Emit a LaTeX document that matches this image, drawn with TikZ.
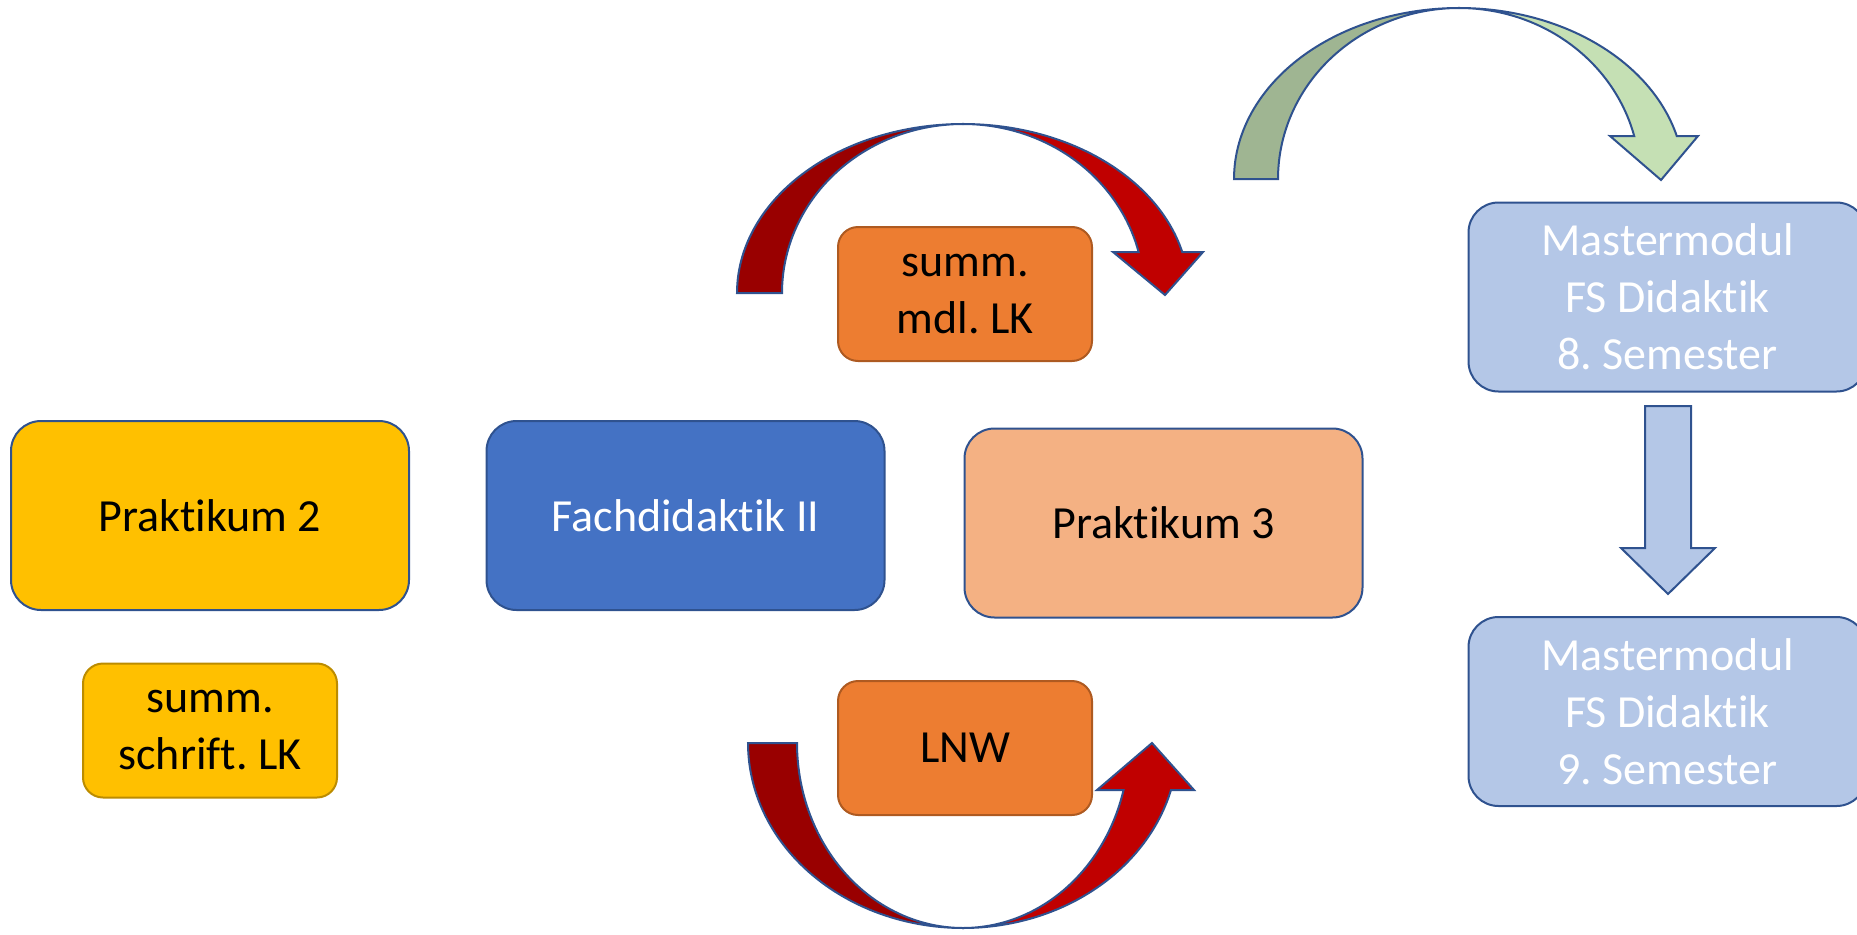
\documentclass[tikz,border=0pt]{standalone}
\usepackage{fontspec}
\setmainfont{Carlito}[RawFeature={-liga;-clig;-calt;-dlig}]
\frenchspacing
\definecolor{olblue}{HTML}{2F528F}
\definecolor{yel}{HTML}{FFC000}
\definecolor{gold}{HTML}{BC8C00}
\definecolor{blu}{HTML}{4472C4}
\definecolor{peach}{HTML}{F4B183}
\definecolor{ora}{HTML}{ED7D31}
\definecolor{brn}{HTML}{AE5A21}
\definecolor{lblue}{HTML}{B4C7E7}
\definecolor{dred}{HTML}{990000}
\definecolor{bred}{HTML}{C00000}
\definecolor{dgreen}{HTML}{9FB592}
\definecolor{lgreen}{HTML}{C5E0B4}
\begin{document}
\begin{tikzpicture}[x=1pt,y=-1pt,
  box/.style={draw=olblue, line width=2pt, rounded corners=30pt, inner sep=0pt, align=center,
              font=\fontsize{46pt}{57pt}\selectfont, text=black},
  smallbox/.style={box, rounded corners=20pt, minimum width=254pt, minimum height=134pt},
  bigbox/.style={box, minimum width=398pt, minimum height=189pt},
  arr/.style={draw=olblue, line width=2pt, line join=miter}
]
\useasboundingbox (0,0) rectangle (1857,934);

% curved red arrow (top)
\draw[arr, fill=dred] (737,293)
  -- plot[domain=180:90, samples=60, variable=\t] ({963+226*cos(\t)},{293-169*sin(\t)})
  -- plot[domain=90:180, samples=60, variable=\t] ({963+181*cos(\t)},{293-169*sin(\t)})
  -- cycle;
\draw[arr, fill=bred] (963,124)
  -- plot[domain=90:14.04, samples=60, variable=\t] ({963+226*cos(\t)},{293-169*sin(\t)})
  -- (1203,252) -- (1165,295) -- (1113,252)
  -- plot[domain=14.04:90, samples=60, variable=\t] ({963+181*cos(\t)},{293-169*sin(\t)})
  -- cycle;

% curved red arrow (bottom)
\draw[arr, fill=dred] (748,743)
  -- plot[domain=180:90, samples=60, variable=\t] ({963+215*cos(\t)},{743+185*sin(\t)})
  -- plot[domain=90:180, samples=60, variable=\t] ({963+166*cos(\t)},{743+185*sin(\t)})
  -- cycle;
\draw[arr, fill=bred] (963,928)
  -- plot[domain=90:14.72, samples=60, variable=\t] ({963+215*cos(\t)},{743+185*sin(\t)})
  -- (1194,790) -- (1152,743) -- (1097,790)
  -- plot[domain=14.72:90, samples=60, variable=\t] ({963+166*cos(\t)},{743+185*sin(\t)})
  -- cycle;

% curved green arrow
\draw[arr, fill=dgreen] (1234,179)
  -- plot[domain=180:90, samples=60, variable=\t] ({1459+225*cos(\t)},{179-171*sin(\t)})
  -- plot[domain=90:180, samples=60, variable=\t] ({1459+181*cos(\t)},{179-171*sin(\t)})
  -- cycle;
\draw[arr, fill=lgreen] (1459,8)
  -- plot[domain=90:14.56, samples=60, variable=\t] ({1459+225*cos(\t)},{179-171*sin(\t)})
  -- (1698,136) -- (1661,180) -- (1610,136)
  -- plot[domain=14.56:90, samples=60, variable=\t] ({1459+181*cos(\t)},{179-171*sin(\t)})
  -- cycle;

% boxes
\node[bigbox, fill=yel] (p2) at (210,515.5) {Praktikum 2};
\node[bigbox, fill=blu, text=white] (fd) at (685.5,515.5) {Fachdidaktik II};
\node[bigbox, fill=peach] (p3) at (1163.5,523) {Praktikum 3};
\node[smallbox, fill=yel, draw=gold] (ssl) at (210,730.5) {summ.\\schrift. LK};
\node[smallbox, fill=ora, draw=brn] (sml) at (965,294) {summ.\\mdl. LK};
\node[smallbox, fill=ora, draw=brn] (lnw) at (965,748) {LNW};
\node[bigbox, fill=lblue, text=white] (m8) at (1667.5,297) {Mastermodul\\FS Didaktik\\8. Semester};
\node[bigbox, fill=lblue, text=white] (m9) at (1667.5,711.5) {Mastermodul\\FS Didaktik\\9. Semester};

% block arrow between the master modules
\draw[arr, fill=lblue] (1645,406) -- (1691,406) -- (1691,548) -- (1715,548)
  -- (1668,594) -- (1621,548) -- (1645,548) -- cycle;
\end{tikzpicture}
\end{document}
